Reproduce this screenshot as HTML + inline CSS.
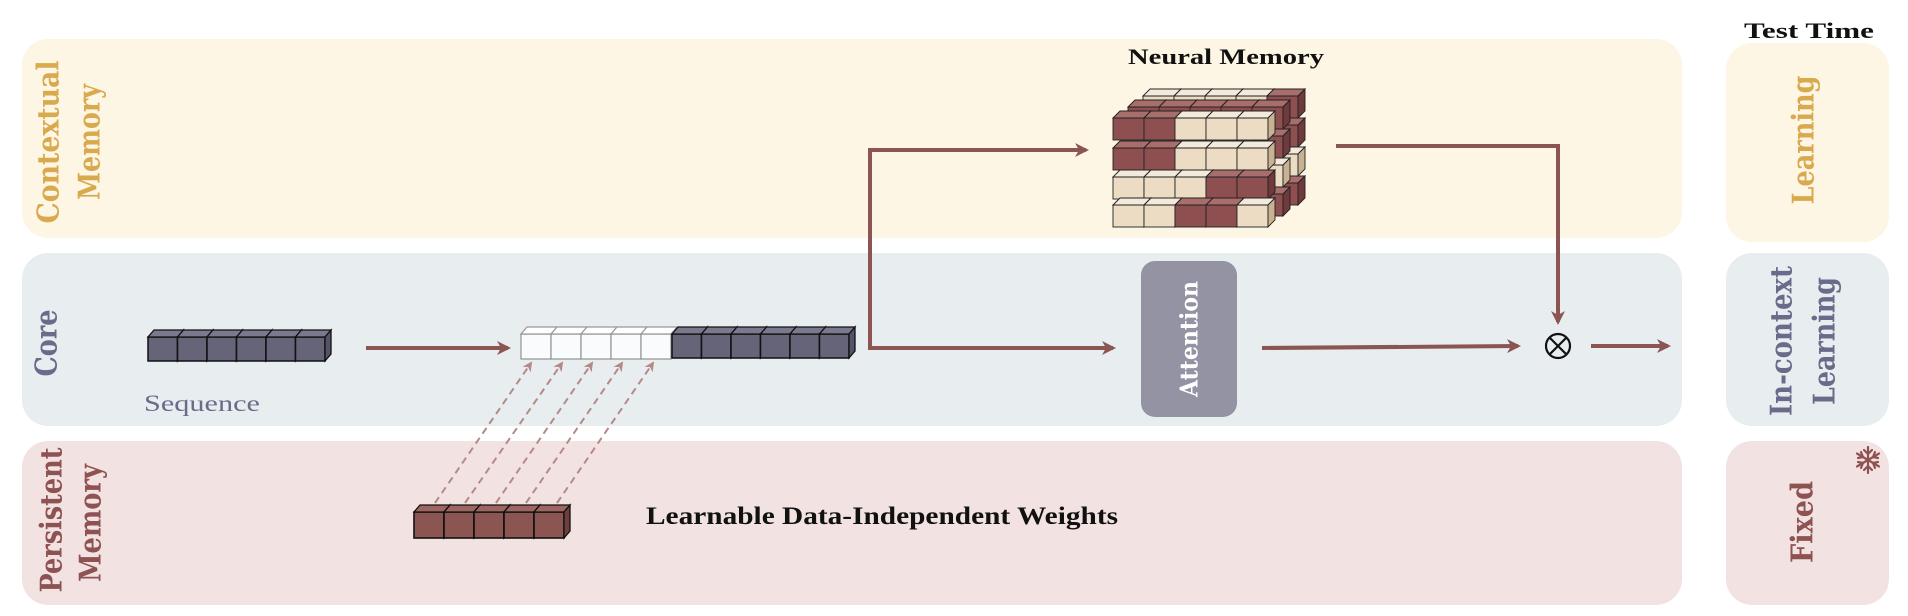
<!DOCTYPE html>
<html><head><meta charset="utf-8"><style>
html,body{margin:0;padding:0;background:#fff;}
svg{display:block;}
.m{font-family:"DejaVu Serif","Liberation Serif",serif;font-weight:bold;}
.s{font-family:"Liberation Serif",serif;font-weight:bold;}
</style></head><body>
<svg width="1908" height="616" viewBox="0 0 1908 616" xmlns="http://www.w3.org/2000/svg">
<defs>
<marker id="ah" markerWidth="14" markerHeight="14" refX="11" refY="7" orient="auto" markerUnits="userSpaceOnUse" viewBox="0 0 14 14">
<path d="M0,0 L14,7 L0,14 L4,7 z" fill="#8b5552"/>
</marker>
<marker id="ad" markerWidth="10" markerHeight="10" refX="8" refY="5" orient="auto" markerUnits="userSpaceOnUse" viewBox="0 0 10 10">
<path d="M0,0 L10,5 L0,10 L3,5 z" fill="#b48a88"/>
</marker>
<g id="cc"><rect x="0" y="0" width="31" height="22" fill="#ecdcc4" stroke="#222" stroke-width="0.9"/><polygon points="0,0 7,-7 38,-7 31,0" fill="#f4eadb" stroke="#222" stroke-width="0.9"/><polygon points="31,0 38,-7 38,15 31,22" fill="#c8b292" stroke="#222" stroke-width="0.9"/></g>
<g id="cb"><rect x="0" y="0" width="31" height="22" fill="#8e4f50" stroke="#222" stroke-width="0.9"/><polygon points="0,0 7,-7 38,-7 31,0" fill="#a86e6c" stroke="#222" stroke-width="0.9"/><polygon points="31,0 38,-7 38,15 31,22" fill="#6e3a3b" stroke="#222" stroke-width="0.9"/></g>
<g id="sq"><rect x="0" y="0" width="29.5" height="24" fill="#666479" stroke="#111" stroke-width="1.5"/><polygon points="0,0 6,-7 35.5,-7 29.5,0" fill="#7b798e" stroke="#111" stroke-width="1.3"/><polygon points="29.5,0 35.5,-7 35.5,17 29.5,24" fill="#55536a" stroke="#111" stroke-width="1.3"/></g>
<g id="wq"><rect x="0" y="0" width="30" height="25" fill="#fafbfc" stroke="#999" stroke-width="1.3"/><polygon points="0,0 6,-7 36,-7 30,0" fill="#ffffff" stroke="#999" stroke-width="1.2"/></g>
<g id="pq"><rect x="0" y="0" width="30" height="26" fill="#8b5552" stroke="#111" stroke-width="1.6"/><polygon points="0,0 6,-7 36,-7 30,0" fill="#9d6663" stroke="#111" stroke-width="1.3"/><polygon points="30,0 36,-7 36,19 30,26" fill="#6e3f3d" stroke="#111" stroke-width="1.3"/></g>
</defs>

<rect x="22" y="39" width="1660" height="199" rx="26" fill="#fdf6e4"/>
<rect x="22" y="253" width="1660" height="173" rx="26" fill="#e8edf0"/>
<rect x="22" y="441" width="1660" height="164" rx="26" fill="#f2e3e2"/>
<rect x="1726" y="43" width="163" height="199" rx="26" fill="#fdf6e4"/>
<rect x="1726" y="253" width="163" height="173" rx="26" fill="#e8edf0"/>
<rect x="1726" y="441" width="163" height="164" rx="26" fill="#f2e3e2"/>

<g class="m" font-size="30" text-anchor="middle" dominant-baseline="central">
<text transform="translate(49,142) rotate(-90)" fill="#d9a94e" textLength="163" lengthAdjust="spacingAndGlyphs">Contextual</text>
<text transform="translate(90,142) rotate(-90)" fill="#d9a94e" textLength="116" lengthAdjust="spacingAndGlyphs">Memory</text>
<text transform="translate(47,343) rotate(-90)" fill="#6a6a8a" textLength="67" lengthAdjust="spacingAndGlyphs">Core</text>
<text transform="translate(52,520) rotate(-90)" fill="#8f5252" textLength="145" lengthAdjust="spacingAndGlyphs">Persistent</text>
<text transform="translate(91,523) rotate(-90)" fill="#8f5252" textLength="118" lengthAdjust="spacingAndGlyphs">Memory</text>
<text transform="translate(1804,140) rotate(-90)" fill="#d9a94e" textLength="129" lengthAdjust="spacingAndGlyphs">Learning</text>
<text transform="translate(1782,341) rotate(-90)" fill="#6a6a8a" textLength="150" lengthAdjust="spacingAndGlyphs">In-context</text>
<text transform="translate(1825,341) rotate(-90)" fill="#6a6a8a" textLength="128" lengthAdjust="spacingAndGlyphs">Learning</text>
<text transform="translate(1803,522) rotate(-90)" fill="#8f5252" textLength="82" lengthAdjust="spacingAndGlyphs">Fixed</text>
</g>

<text x="1809" y="38" class="s" font-size="22" text-anchor="middle" fill="#111" textLength="130" lengthAdjust="spacingAndGlyphs">Test Time</text>

<g transform="translate(1868,460)" stroke="#8f5252" stroke-width="2.2" stroke-linecap="round" fill="none">
<line x1="0" y1="-13" x2="0" y2="13"/><line x1="-11" y1="-6.5" x2="11" y2="6.5"/><line x1="-11" y1="6.5" x2="11" y2="-6.5"/>
<path d="M-4,-10 L0,-6 L4,-10 M-4,10 L0,6 L4,10 M-10,-2 L-5,-3 L-7,-8 M10,2 L5,3 L7,8 M-10,2 L-5,3 L-7,8 M10,-2 L5,-3 L7,-8"/>
</g>

<g>
<use href="#sq" x="148" y="337"/><use href="#sq" x="177.5" y="337"/><use href="#sq" x="207" y="337"/><use href="#sq" x="236.5" y="337"/><use href="#sq" x="266" y="337"/><use href="#sq" x="295.5" y="337"/>
</g>
<text x="144" y="411" font-family="Liberation Serif,serif" font-size="23" fill="#6a6a8a" textLength="116" lengthAdjust="spacingAndGlyphs">Sequence</text>

<line x1="366" y1="348" x2="508" y2="348" stroke="#8b5552" stroke-width="4" marker-end="url(#ah)"/>

<g>
<use href="#wq" x="521" y="334"/><use href="#wq" x="551" y="334"/><use href="#wq" x="581" y="334"/><use href="#wq" x="611" y="334"/><use href="#wq" x="641" y="334"/>
<use href="#sq" x="672" y="334"/><use href="#sq" x="701.5" y="334"/><use href="#sq" x="731" y="334"/><use href="#sq" x="760.5" y="334"/><use href="#sq" x="790" y="334"/><use href="#sq" x="819.5" y="334"/>
</g>

<g>
<use href="#pq" x="414" y="512"/><use href="#pq" x="444" y="512"/><use href="#pq" x="474" y="512"/><use href="#pq" x="504" y="512"/><use href="#pq" x="534" y="512"/>
</g>

<g stroke="#b48a88" stroke-width="2" stroke-dasharray="7,5" marker-end="url(#ad)">
<line x1="435" y1="503" x2="531" y2="363"/>
<line x1="465" y1="503" x2="562" y2="363"/>
<line x1="496" y1="503" x2="592" y2="363"/>
<line x1="526" y1="503" x2="622" y2="363"/>
<line x1="557" y1="503" x2="653" y2="363"/>
</g>

<text x="646" y="524" class="s" font-size="25" fill="#111" textLength="472" lengthAdjust="spacingAndGlyphs">Learnable Data-Independent Weights</text>

<polyline points="870,349 870,150 1086,150" fill="none" stroke="#8b5552" stroke-width="4" marker-end="url(#ah)"/>
<line x1="868" y1="348" x2="1113" y2="348" stroke="#8b5552" stroke-width="4" marker-end="url(#ah)"/>
<polyline points="1336,146 1558,146 1558,322" fill="none" stroke="#8b5552" stroke-width="4" marker-end="url(#ah)"/>
<line x1="1262" y1="348" x2="1518" y2="346" stroke="#8b5552" stroke-width="4" marker-end="url(#ah)"/>
<line x1="1591" y1="346" x2="1668" y2="346" stroke="#8b5552" stroke-width="4" marker-end="url(#ah)"/>

<g stroke="#111" stroke-width="2.2" fill="none">
<ellipse cx="1558" cy="346" rx="12" ry="12"/>
<line x1="1549.5" y1="337.5" x2="1566.5" y2="354.5"/><line x1="1566.5" y1="337.5" x2="1549.5" y2="354.5"/>
</g>

<rect x="1141" y="261" width="96" height="156" rx="14" fill="#9493a3"/>
<text transform="translate(1189,339) rotate(-90)" class="m" font-size="24" fill="#fff" text-anchor="middle" dominant-baseline="central" textLength="116" lengthAdjust="spacingAndGlyphs">Attention</text>

<text x="1226" y="64" class="s" font-size="22" text-anchor="middle" fill="#111" textLength="196" lengthAdjust="spacingAndGlyphs">Neural Memory</text>

<g>
<use href="#cc" x="1143" y="96"/><use href="#cc" x="1174" y="96"/><use href="#cc" x="1205" y="96"/><use href="#cc" x="1236" y="96"/><use href="#cb" x="1267" y="96"/>
<use href="#cb" x="1267" y="125"/><use href="#cc" x="1267" y="154"/><use href="#cb" x="1267" y="183"/>
<use href="#cb" x="1128" y="107"/><use href="#cb" x="1159" y="107"/><use href="#cb" x="1190" y="107"/><use href="#cb" x="1221" y="107"/><use href="#cb" x="1252" y="107"/>
<use href="#cb" x="1252" y="136"/><use href="#cc" x="1252" y="165"/><use href="#cb" x="1252" y="194"/>
<use href="#cb" x="1113" y="118"/><use href="#cb" x="1144" y="118"/><use href="#cc" x="1175" y="118"/><use href="#cc" x="1206" y="118"/><use href="#cc" x="1237" y="118"/>
<use href="#cb" x="1113" y="148"/><use href="#cb" x="1144" y="148"/><use href="#cc" x="1175" y="148"/><use href="#cc" x="1206" y="148"/><use href="#cc" x="1237" y="148"/>
<use href="#cc" x="1113" y="177"/><use href="#cc" x="1144" y="177"/><use href="#cc" x="1175" y="177"/><use href="#cb" x="1206" y="177"/><use href="#cb" x="1237" y="177"/>
<use href="#cc" x="1113" y="205"/><use href="#cc" x="1144" y="205"/><use href="#cb" x="1175" y="205"/><use href="#cb" x="1206" y="205"/><use href="#cc" x="1237" y="205"/>
</g>
</svg>
</body></html>
